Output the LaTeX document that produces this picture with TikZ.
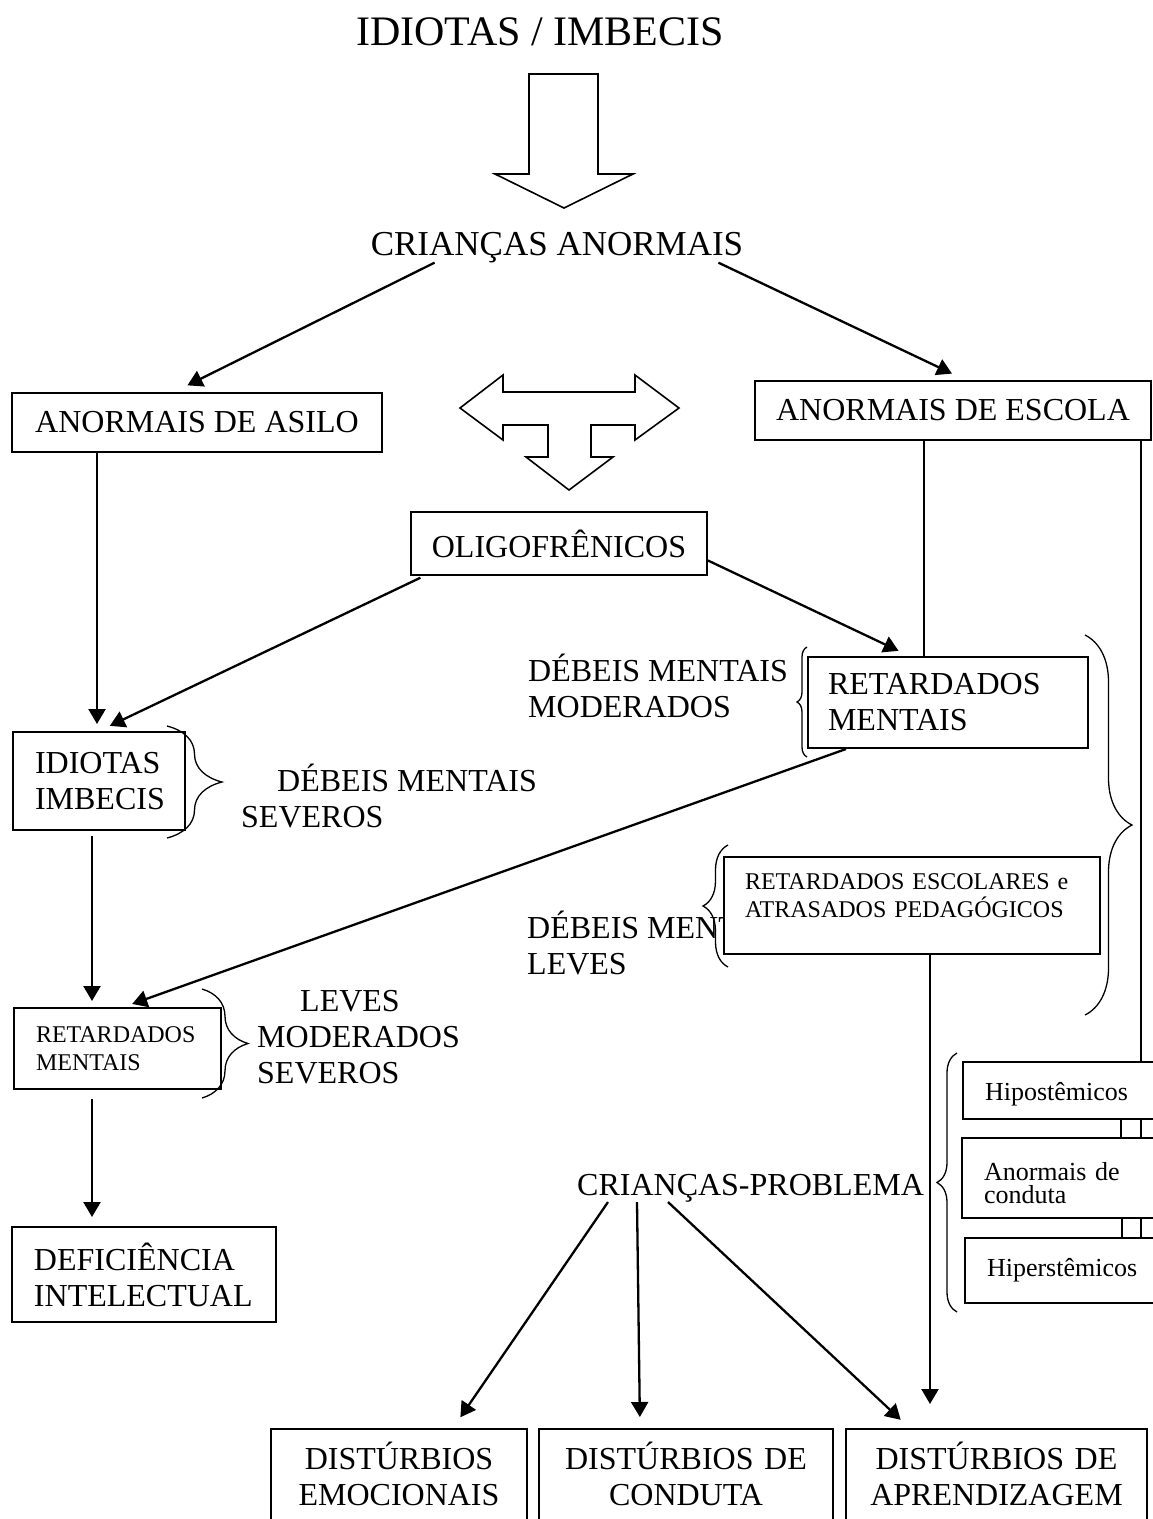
\documentclass[tikz,border=0pt]{standalone}
\usepackage{fontspec}
\setmainfont{Liberation Serif}
\usetikzlibrary{arrows.meta, decorations.pathreplacing}

\tikzset{
  texto/.style={font=\fontsize{32}{36}\selectfont},
  pequeno/.style={font=\fontsize{24}{28}\selectfont},
  lateral/.style={font=\fontsize{26}{23}\selectfont},
  caixa/.style={draw, line width=2pt, fill=white, inner sep=0pt},
  livre/.style={inner sep=0pt, align=left},
  seta/.style={-{Triangle[length=15pt,width=17pt]}, line width=2.3pt},
  linha/.style={line width=1.7pt},
  chave/.style={decorate, decoration={brace, amplitude=#1}, line width=1.3pt},
  bloco/.style={line width=1.6pt, line join=miter},
}

\begin{document}
\begin{tikzpicture}[x=1pt, y=-1pt]
    \useasboundingbox (0,0) rectangle (1153,1519);
    \clip (0,0) rectangle (1153,1519);
    \fill[white] (0,0) rectangle (1153,1519);

    \node[anchor=base, inner sep=0pt, font=\fontsize{42}{48}\selectfont] (titulo) at (540,45) {IDIOTAS / IMBECIS};
    \draw[bloco] (529,74) -- (598,74) -- (598,174) -- (633,174) -- (564,208) -- (495,174) -- (529,174) -- cycle;
    \node[anchor=base, inner sep=0pt, font=\fontsize{35}{40}\selectfont] (criancas) at (557,255) {CRIANÇAS ANORMAIS};

    \node[caixa, texto, minimum width=370pt, minimum height=59pt] (asilo) at (197,422.5) {ANORMAIS DE ASILO};
    \node[caixa, texto, minimum width=396pt, minimum height=59pt] (escola) at (953,410.5) {ANORMAIS DE ESCOLA};

    % seta tripla
    \draw[bloco] (460,408) -- (503,375) -- (503,392) -- (635,392) -- (635,375) -- (679,408) -- (635,440) -- (635,425) -- (591,425) -- (591,457) -- (613,457) -- (569,490) -- (526,457) -- (548,457) -- (548,425) -- (503,425) -- (503,440) -- cycle;

    \node[caixa, texto, minimum width=296pt, minimum height=63pt] (oligo) at (559,543.5) {OLIGOFRÊNICOS};

    % textos soltos (base = ultima linha)
    \node[texto, livre, anchor=base west] (moderados) at (528,717) {DÉBEIS MENTAIS\\MODERADOS};
    \node[texto, livre, anchor=base west] (severos) at (241,827) {\hspace*{36pt}DÉBEIS MENTAIS\\SEVEROS};
    \node[texto, livre, anchor=base west] (graus) at (257,1083) {\hspace*{43pt}LEVES\\MODERADOS\\SEVEROS};
    \node[texto, livre, anchor=base west] (debleves) at (527,974) {DÉBEIS MENTAIS\\LEVES};
    \node[texto, inner sep=0pt, anchor=base west] (problema) at (577,1195) {CRIANÇAS-PROBLEMA};

    \node[caixa, texto, align=left, text width=128pt, inner xsep=22pt, minimum height=98pt] (idiotas) at (99,781) {IDIOTAS\\IMBECIS};
    \node[caixa, pequeno, align=left, text width=163pt, inner xsep=22pt, minimum height=81pt] (retmentais) at (117.5,1048.5) {RETARDADOS\\MENTAIS};
    \node[caixa, texto, align=left, text width=220pt, inner xsep=22pt, minimum height=95pt] (deficiencia) at (144,1274.5) {DEFICIÊNCIA\\INTELECTUAL};
    \node[caixa, texto, align=left, text width=240pt, inner xsep=20pt, minimum height=91pt] (retardados) at (948,702.5) {RETARDADOS\\MENTAIS};
    \node[caixa, pequeno, align=left, text width=334pt, inner xsep=21pt, minimum height=97pt, text depth=48pt] (escolares) at (912,905.5) {RETARDADOS ESCOLARES e\\ATRASADOS PEDAGÓGICOS};

    \node[caixa, lateral, align=left, text width=153pt, inner xsep=22pt, minimum height=57pt, text height=24pt, text depth=5pt] (hipo) at (1061.5,1090.5) {Hipostêmicos};
    \node[caixa, lateral, align=left, text width=154pt, inner xsep=22pt, minimum height=80pt, text height=27pt, text depth=23pt] (conduta) at (1061,1178) {Anormais de\\conduta};
    \node[caixa, lateral, align=left, text width=151pt, inner xsep=22pt, minimum height=65pt, text height=17pt, text depth=6pt] (hiper) at (1062.5,1270.5) {Hiperstêmicos};

    \node[caixa, texto, align=center, text width=256pt, minimum height=111pt, text depth=58pt] (emocionais) at (399,1484.5) {DISTÚRBIOS\\EMOCIONAIS};
    \node[caixa, texto, align=center, text width=294pt, minimum height=111pt, text depth=58pt] (disconduta) at (686,1484.5) {DISTÚRBIOS DE\\CONDUTA};
    \node[caixa, texto, align=center, text width=301pt, minimum height=111pt, text depth=58pt] (aprendizagem) at (996.5,1484.5) {DISTÚRBIOS DE\\APRENDIZAGEM};

    % setas
    \draw[seta, shorten >=15pt] ([xshift=64pt]criancas.south west) -- ([xshift=-23pt]asilo.north);
    \draw[seta, shorten >=15pt] ([xshift=-25pt]criancas.south east) -- ([xshift=12.5pt]escola.north);
    \draw[seta, shorten >=7pt] ([xshift=-100pt]asilo.south) -- ([xshift=-2pt]idiotas.north);
    \draw[seta, shorten <=4pt, shorten >=12pt] ([xshift=14pt]oligo.south west) -- (idiotas.north);
    \draw[seta, shorten >=12pt] ([yshift=-17pt]oligo.east) -- ([xshift=-38.6pt]retardados.north);
    \draw[seta, shorten <=5pt, shorten >=6pt] ([xshift=-7pt]idiotas.south) -- ([xshift=-25.5pt]retmentais.north);
    \draw[seta, shorten >=9pt] ([xshift=39pt]retardados.south west) -- ([xshift=6.2pt]retmentais.north);
    \draw[seta, shorten <=9pt, shorten >=9pt] ([xshift=-25.5pt]retmentais.south) -- ([xshift=-52pt]deficiencia.north);

    \draw[linha] ([xshift=-29pt]escola.south) -- ([xshift=-24pt]retardados.north);
    \draw[linha] ([xshift=188pt]escola.south) -- ([xshift=79.5pt]hipo.north);
    \draw[linha] ([xshift=59.5pt]hipo.south) -- ([xshift=60pt]conduta.north);
    \draw[linha] ([xshift=79.5pt]hipo.south) -- ([xshift=80pt]conduta.north);
    \draw[linha] ([xshift=61pt]conduta.south) -- ([xshift=59.5pt]hiper.north);
    \draw[linha] ([xshift=80pt]conduta.south) -- ([xshift=78.5pt]hiper.north);

    \draw[seta, shorten >=24pt] ([xshift=18pt]escolares.south) -- ([xshift=-66.5pt]aprendizagem.north);
    \draw[seta, shorten >=13pt] ([xshift=31pt]problema.south west) -- ([xshift=54pt]emocionais.north);
    \draw[seta, shorten >=11pt] ([xshift=60pt]problema.south west) -- ([xshift=-46pt]disconduta.north);
    \draw[seta, shorten >=12pt] ([xshift=91pt]problema.south west) -- ([xshift=-87pt]aprendizagem.north);

    % chaves
    \draw[chave=55pt] (167,726) -- (167,838);
    \draw[chave=46pt] (202,989) -- (202,1098);
    \draw[chave=10pt] (807,757) -- (807,647);
    \draw[chave=47pt] (1085,635) -- (1085,1015);
    \draw[chave=25pt] (728,967) -- (728,845);
    \draw[chave=20pt] (957,1312) -- (957,1053);
\end{tikzpicture}
\end{document}
